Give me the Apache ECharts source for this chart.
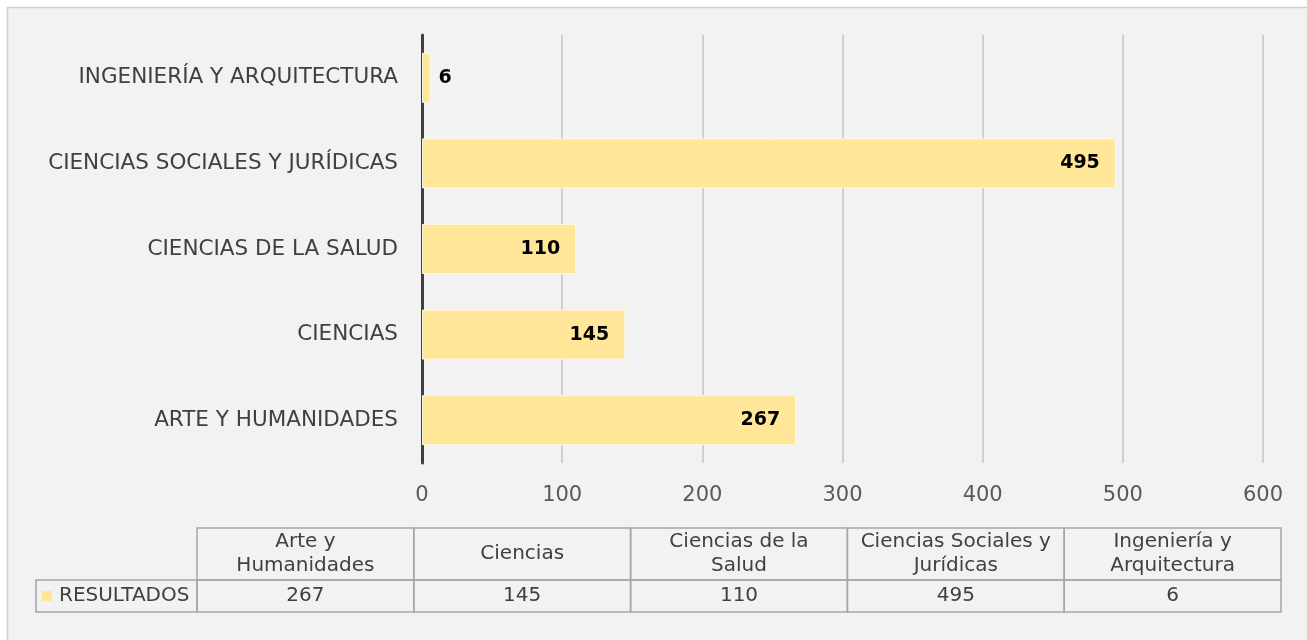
<!DOCTYPE html>
<html>
<head>
<meta charset="utf-8">
<title>Resultados por rama</title>
<script src="https://cdn.jsdelivr.net/npm/echarts@6/dist/echarts.min.js"></script>
<style>
	html, body { margin: 0; padding: 0; background: #fff; }
	#chart1 { width: 1307px; height: 640px; }
</style>
</head>
<body>
<div id="chart1"></div>
<script>
// datos
var ramas = ['ARTE Y HUMANIDADES', 'CIENCIAS', 'CIENCIAS DE LA SALUD', 'CIENCIAS SOCIALES Y JURÍDICAS', 'INGENIERÍA Y ARQUITECTURA'];
var cabeceras = ['Arte y\nHumanidades', 'Ciencias', 'Ciencias de la\nSalud', 'Ciencias Sociales y\nJurídicas', 'Ingeniería y\nArquitectura'];
var resultados = [267, 145, 110, 495, 6];
var nombreSerie = 'RESULTADOS';
var ejeX = [0, 100, 200, 300, 400, 500, 600];

var fuente = 'DejaVu Sans';
var colorBarra = '#ffe699';

var myChart1 = echarts.init(document.getElementById('chart1'));

// tabla de datos debajo del grafico
var tabla = [];
var tX = 197, tW = 216.8, filaCab = 528, filaDat = 580, fin = 612;
var fTabla = '20px "' + fuente + '"';
tabla.push({
	type: 'rect', shape: { x: 7.5, y: 7.5, width: 1320, height: 660 },
	style: { fill: '#f2f2f2', stroke: '#d0d0d0', lineWidth: 1.5 }, z: -10
});
for (var i = 0; i < cabeceras.length; i++) {
	var x0 = tX + i * tW;
	tabla.push({
		type: 'rect', shape: { x: x0, y: filaCab, width: tW, height: filaDat - filaCab },
		style: { fill: 'none', stroke: '#a6a6a6', lineWidth: 1.5 }
	});
	tabla.push({
		type: 'rect', shape: { x: x0, y: filaDat, width: tW, height: fin - filaDat },
		style: { fill: 'none', stroke: '#a6a6a6', lineWidth: 1.5 }
	});
	tabla.push({
		type: 'text', x: x0 + tW / 2, y: (filaCab + filaDat) / 2,
		style: { text: cabeceras[i], fill: '#404040', font: fTabla, align: 'center', verticalAlign: 'middle', lineHeight: 24 }
	});
	tabla.push({
		type: 'text', x: x0 + tW / 2, y: (filaDat + fin) / 2,
		style: { text: String(resultados[i]), fill: '#404040', font: fTabla, align: 'center', verticalAlign: 'middle' }
	});
}
// celda de leyenda
tabla.push({
	type: 'rect', shape: { x: 36, y: filaDat, width: tX - 36, height: fin - filaDat },
	style: { fill: 'none', stroke: '#a6a6a6', lineWidth: 1.5 }
});
tabla.push({
	type: 'rect', shape: { x: 42, y: 591, width: 10, height: 10 },
	style: { fill: colorBarra }
});
tabla.push({
	type: 'text', x: 59, y: (filaDat + fin) / 2,
	style: { text: nombreSerie, fill: '#404040', font: fTabla, align: 'left', verticalAlign: 'middle' }
});

var option1 = {
	animation: false,
	backgroundColor: '#ffffff',
	textStyle: { fontFamily: fuente },
	grid: {
		left: 422,
		right: 44,
		top: 35,
		bottom: 177
	},
	xAxis: {
		type: 'value',
		min: ejeX[0],
		max: ejeX[ejeX.length - 1],
		interval: 100,
		axisLine: { show: false },
		axisTick: { show: false },
		splitLine: { lineStyle: { color: '#d0d0d0', width: 2 } },
		axisLabel: { color: '#595959', fontSize: 21, margin: 22 }
	},
	yAxis: {
		type: 'category',
		data: ramas,
		axisLine: { show: true, lineStyle: { color: '#404040', width: 3 } },
		axisTick: { show: false },
		axisLabel: { color: '#404040', fontSize: 21.5, margin: 24 }
	},
	series: [{
		name: nombreSerie,
		type: 'bar',
		barWidth: 50,
		data: resultados.map(function(v) {
			return {
				value: v,
				label: { position: v < 30 ? 'right' : 'insideRight', distance: v < 30 ? 8 : 16 }
			};
		}),
		itemStyle: { color: colorBarra, borderColor: '#fff8e0', borderWidth: 1 },
		label: {
			show: true,
			color: '#000',
			fontSize: 19,
			fontWeight: 'bold'
		}
	}],
	graphic: tabla
};
myChart1.setOption(option1);
</script>
</body>
</html>
